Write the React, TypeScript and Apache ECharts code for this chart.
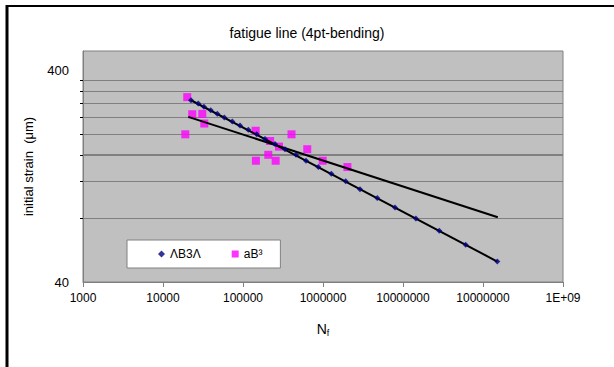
import React, { useEffect, useRef } from "react";
import * as echarts from "echarts";

// ---- data ----
const seriesNames = ["ΛB3Λ", "aB³"];

const lambdaN = [22400, 27600, 32500, 39500, 47700, 58400, 73500, 91700, 116500, 148400, 188400, 251000, 335000, 460000, 613000, 874000, 1270000, 1920000, 2900000, 4770000, 7940000, 14500000, 28400000, 60800000, 151000000];
const lambdaStrain = [290, 280, 270, 260, 250, 240, 230, 220, 210, 200, 190, 180, 170, 160, 150, 140, 130, 120, 110, 100, 90, 80, 70, 60, 50];

const abN = [20100, 23200, 31000, 32800, 19000, 144000, 218000, 282000, 404000, 636000, 145000, 207000, 256000, 991000, 2020000];
const abStrain = [300, 249, 250, 225, 200, 208, 186, 175, 200, 170, 150, 160, 150, 150, 140];

const trend1N = [22400, 151000000];
const trend1Strain = [290, 50];
const trend2N = [20700, 153000000];
const trend2Strain = [242, 81];

const xTickValues = [1e3, 1e4, 1e5, 1e6, 1e7, 1e8, 1e9];
const xTickLabels = ["1000", "10000", "100000", "1000000", "10000000", "10000000", "1E+09"];
const yGridValues = [80, 120, 160, 200, 240, 280, 320, 360];
const yLabelValues = [40, 400];
const yMin = 40;
const yMax = 496;
const xMin = 1e3;
const xMax = 1e9;
const heavyGrid = [160];

const zip = (a: number[], b: number[]) => a.map((v, i) => [v, b[i]]);

export default function App() {
  const ref = useRef<HTMLDivElement>(null);
  useEffect(() => {
    if (!ref.current) return;
    const chart = echarts.init(ref.current, undefined, { renderer: "svg" });
    const font = "Liberation Sans, Arial, sans-serif";
    chart.setOption({
      animation: false,
      backgroundColor: "#ffffff",
      textStyle: { fontFamily: font },
      title: {
        text: "fatigue line (4pt-bending)",
        left: "center",
        top: 21,
        textStyle: { fontFamily: font, fontSize: 14, fontWeight: "normal", color: "#000" },
      },
      grid: {
        left: 83,
        right: 51,
        top: 51,
        bottom: 85,
        show: true,
        backgroundColor: "#c0c0c0",
        borderColor: "#808080",
        borderWidth: 1,
      },
      legend: {
        data: [
          { name: seriesNames[0], icon: "diamond" },
          { name: seriesNames[1], icon: "rect" },
        ],
        left: 127,
        top: 240,
        orient: "horizontal",
        itemWidth: 7,
        itemHeight: 7,
        itemGap: 31,
        padding: [8, 18, 8, 31],
        backgroundColor: "#ffffff",
        borderColor: "#808080",
        borderWidth: 1,
        textStyle: { fontFamily: font, fontSize: 12, color: "#000" },
      },
      xAxis: {
        type: "log",
        logBase: 10,
        min: xMin,
        max: xMax,
        name: "{n|N}{s|f}",
        nameLocation: "middle",
        nameGap: 38,
        nameTextStyle: {
          rich: {
            n: { fontFamily: font, fontSize: 14, color: "#000", lineHeight: 18 },
            s: { fontFamily: font, fontSize: 9, color: "#000", lineHeight: 18, padding: [7, 0, 0, 0] },
          },
        },
        axisLine: { show: true, lineStyle: { color: "#808080", width: 1 } },
        axisTick: { show: true, length: 5, lineStyle: { color: "#808080" }, customValues: xTickValues },
        axisLabel: {
          customValues: xTickValues,
          margin: 10,
          fontFamily: font,
          fontSize: 12,
          color: "#000",
          formatter: (v: number) => xTickLabels[Math.round(Math.log10(v)) - 3] ?? "",
        },
        splitLine: { show: false },
        minorTick: { show: false },
      },
      yAxis: {
        type: "log",
        logBase: 10,
        min: yMin,
        max: yMax,
        name: "initial strain  (μm)",
        nameLocation: "middle",
        nameGap: 48,
        nameTextStyle: { fontFamily: font, fontSize: 13, color: "#000" },
        axisLine: { show: true, lineStyle: { color: "#808080", width: 1 } },
        axisTick: { show: true, length: 3, lineStyle: { color: "#000" }, customValues: yGridValues },
        axisLabel: {
          customValues: yLabelValues,
          margin: 14,
          fontFamily: font,
          fontSize: 13,
          color: "#000",
          formatter: (v: number) => String(Math.round(v)),
        },
        splitLine: { show: true, lineStyle: { color: "#808080", width: 1 } },
      },
      series: [
        {
          name: seriesNames[1],
          type: "scatter",
          symbol: "rect",
          symbolSize: 8,
          itemStyle: { color: "#ff00ff" },
          data: zip(abN, abStrain),
          z: 2,
          markLine: {
            silent: true,
            symbol: "none",
            label: { show: false },
            lineStyle: { color: "#808080", width: 2, type: "solid" },
            data: heavyGrid.map((v) => ({ yAxis: v })),
            z: 1,
          },
        },
        {
          name: "trend1",
          type: "line",
          data: zip(trend1N, trend1Strain),
          showSymbol: false,
          symbol: "none",
          lineStyle: { color: "#000", width: 2 },
          z: 3,
        },
        {
          name: "trend2",
          type: "line",
          data: zip(trend2N, trend2Strain),
          showSymbol: false,
          symbol: "none",
          lineStyle: { color: "#000", width: 2 },
          z: 3,
        },
        {
          name: seriesNames[0],
          type: "scatter",
          symbol: "diamond",
          symbolSize: 6,
          itemStyle: { color: "#000080" },
          data: zip(lambdaN, lambdaStrain),
          z: 4,
        },
      ],
      graphic: [
        { type: "line", shape: { x1: 7, y1: 5, x2: 7, y2: 367 }, style: { stroke: "#000", lineWidth: 3 } },
        { type: "line", shape: { x1: 6, y1: 6, x2: 614, y2: 6 }, style: { stroke: "#000", lineWidth: 2 } },
      ],
    });
    return () => chart.dispose();
  }, []);
  return (
    <div
      ref={ref}
      style={{ position: "fixed", left: 0, top: 0, width: 614, height: 367 }}
    />
  );
}
